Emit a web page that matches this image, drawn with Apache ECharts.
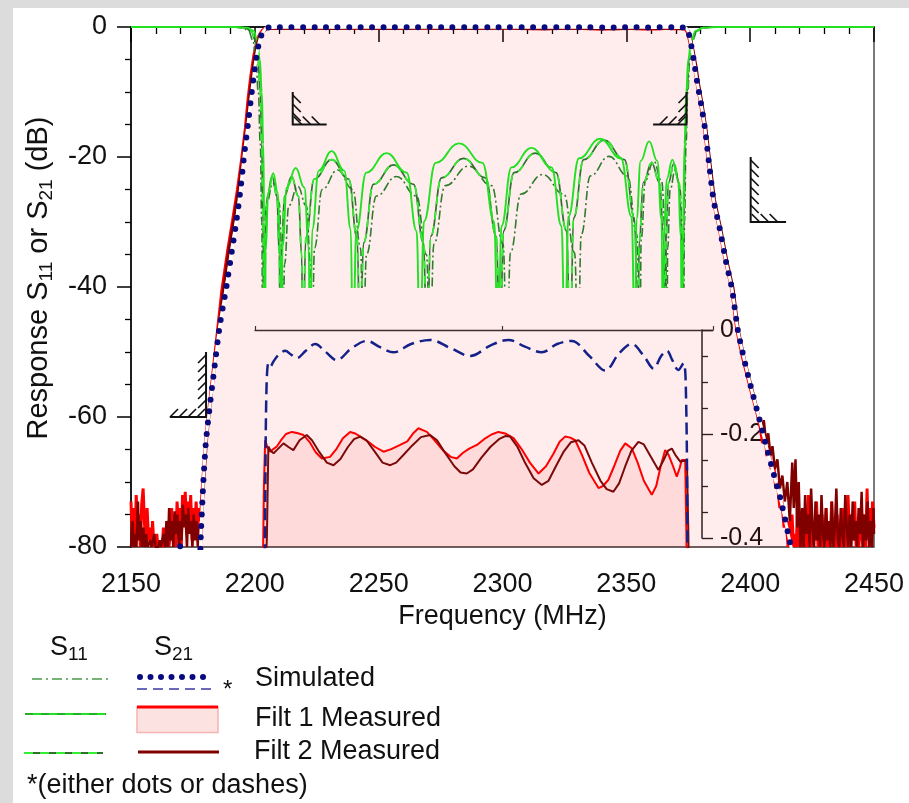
<!DOCTYPE html>
<html><head><meta charset="utf-8">
<script src="https://cdn.jsdelivr.net/npm/echarts@6/dist/echarts.min.js"></script>
<style>html,body{margin:0;padding:0;background:#fff}#c{width:909px;height:803px}</style>
</head><body><div id="c"></div>
<script>
const FONT = '"Liberation Sans", Arial, sans-serif';

// ---------- axis definitions ----------
const xRange = [2150, 2450];
const xInterval = 50;
const yRange = [-80, 0];
const yInterval = 20;
const insetYRange = [-0.4, 0];
const insetYInterval = 0.2;

// ---------- S21 Filt 1 measured (MHz, dB) ----------
const s21Filt1 = [
[2150.0,-73],[2150.5,-79],[2151.0,-74],[2151.6,-80],[2152.1,-72],[2152.7,-77],[2153.2,-75],[2153.8,-80],[2154.3,-73.5],[2154.9,-71],[2155.4,-76],[2156.0,-80],[2156.5,-74],[2157.1,-79],[2157.6,-77],[2158.2,-80],[2158.7,-76],[2159.3,-80],[2159.8,-80],[2160.4,-78],[2160.9,-80],[2161.5,-80],[2162.0,-79],[2162.6,-80],[2163.1,-77],[2163.7,-80],[2164.2,-80],[2164.8,-76],[2165.3,-80],[2165.9,-78],[2166.4,-74],[2167.0,-79],[2167.5,-75],[2168.1,-80],[2168.6,-73],[2169.2,-77],[2169.7,-74],[2170.3,-80],[2170.8,-72],[2171.4,-76],[2171.9,-71.5],[2172.5,-78],[2173.0,-73],[2173.6,-76],[2174.1,-72],[2174.7,-79],[2175.2,-74],[2175.8,-77],[2176.3,-73],[2176.9,-78],[2177.4,-74],[2178.0,-76],
[2178.6,-72],[2179.5,-67],[2180.3,-63],[2181.1,-60],[2183.0,-53.5],[2185.0,-46.5],[2186.7,-40.5],[2189,-34.5],[2191,-29.8],[2193,-25],[2194.8,-20],[2196.2,-15.5],[2197.3,-11],[2198.4,-7.5],[2199.5,-4.6],[2200.6,-2.6],[2201.6,-1.4],[2202.5,-0.8],[2203.2,-0.45],[2203.6,-0.3],
[2204.1,-0.212],[2205.0,-0.225],[2206.1,-0.234],[2207.4,-0.229],[2208.8,-0.224],[2210.5,-0.212],[2212.5,-0.2],[2214.9,-0.196],[2217.0,-0.198],[2219.6,-0.202],[2222.0,-0.215],[2224.5,-0.235],[2227.0,-0.247],[2230.3,-0.244],[2233.0,-0.228],[2235.5,-0.208],[2238.4,-0.196],[2240.5,-0.199],[2242.5,-0.205],[2245.5,-0.214],[2248.5,-0.225],[2251.9,-0.234],[2255.0,-0.229],[2258.6,-0.221],[2261.5,-0.214],[2264.0,-0.198],[2266.0,-0.189],[2267.5,-0.192],[2269.4,-0.196],[2272.5,-0.212],[2276.0,-0.232],[2279.0,-0.244],[2281.5,-0.247],[2284.0,-0.236],[2286.5,-0.228],[2289.6,-0.221],[2292.5,-0.21],[2295.5,-0.201],[2298.3,-0.196],[2301.0,-0.199],[2304.4,-0.208],[2307.5,-0.228],[2311.0,-0.255],[2314.5,-0.276],[2317.5,-0.262],[2320.5,-0.238],[2323.0,-0.215],[2325.2,-0.205],[2327.3,-0.207],[2329.3,-0.212],[2332.0,-0.24],[2335.0,-0.275],[2338.7,-0.304],[2340.5,-0.3],[2342.7,-0.288],[2345.0,-0.262],[2347.5,-0.232],[2349.5,-0.218],[2352.2,-0.228],[2354.5,-0.255],[2357.0,-0.29],[2360.2,-0.317],[2362.0,-0.3],[2363.8,-0.262],[2365.6,-0.231],[2367.0,-0.24],[2368.8,-0.262],[2370.3,-0.282],[2371.5,-0.265],[2372.3,-0.25],[2373.7,-0.25],[2374.2,-0.4],
[2374.6,-0.8],[2375.3,-1.8],[2376.3,-3.5],[2377.5,-6],[2378.6,-8.8],[2379.7,-11.2],[2381.5,-15.5],[2383.2,-21],[2385,-26.6],[2387.5,-31],[2390,-36],[2392.5,-40.2],[2394.6,-46.6],[2397,-51],[2400,-55.5],[2402.5,-59],[2404,-61.5],[2405,-64],[2406,-63],[2406.8,-66],[2407.5,-64.5],[2408.5,-68],[2409.5,-67],[2410.3,-71],[2411,-70],[2412,-74],[2412.8,-73],[2413.7,-77],[2414.5,-75.5],
[2415.3,-80],[2415.8,-76],[2416.4,-80],[2416.9,-75],[2417.5,-80],[2418.0,-78],[2418.6,-80],[2419.1,-74],[2419.7,-80],[2420.2,-77],[2420.8,-80],[2421.3,-79],[2421.9,-80],[2422.4,-75],[2423.0,-80],[2423.5,-72],[2424.1,-78],[2424.6,-74],[2425.2,-80],[2425.7,-76],[2426.3,-79],[2426.8,-73],[2427.4,-80],[2427.9,-77],[2428.5,-80],[2429.0,-75],[2429.6,-80],[2430.1,-78],[2430.7,-74],[2431.2,-80],[2431.8,-76],[2432.3,-80],[2432.9,-73],[2433.4,-79],[2434.0,-77],[2434.5,-80],[2435.1,-75],[2435.6,-80],[2436.2,-78],[2436.7,-80],[2437.3,-74],[2437.8,-79],[2438.4,-76],[2438.9,-80],[2439.5,-72],[2440.0,-77],[2440.6,-80],[2441.1,-75],[2441.7,-79],[2442.2,-73],[2442.8,-80],[2443.3,-76],[2443.9,-80],[2444.4,-74],[2445.0,-78],[2445.5,-80],[2446.1,-75],[2446.6,-80],[2447.2,-71],[2447.7,-78],[2448.3,-74],[2448.8,-80],[2449.4,-73],[2450.0,-77]
];

// ---------- S21 Filt 2 measured ----------
const s21Filt2 = [
[2150.0,-80],[2150.6,-76],[2151.1,-80],[2151.7,-78],[2152.2,-80],[2152.8,-73],[2153.3,-79],[2153.9,-76],[2154.4,-80],[2155.0,-77],[2155.5,-80],[2156.1,-78],[2156.6,-80],[2157.2,-80],[2157.7,-79],[2158.3,-80],[2158.8,-80],[2159.4,-78],[2159.9,-80],[2160.5,-80],[2161.0,-80],[2161.6,-79],[2162.1,-80],[2162.7,-80],[2163.2,-78],[2163.8,-80],[2164.3,-76],[2164.9,-80],[2165.4,-74],[2166.0,-79],[2166.5,-76],[2167.1,-80],[2167.6,-74.5],[2168.2,-78],[2168.7,-75],[2169.3,-80],[2169.8,-76],[2170.4,-79],[2170.9,-73.5],[2171.5,-77],[2172.0,-75],[2172.6,-80],[2173.1,-74],[2173.7,-78],[2174.2,-76],[2174.8,-80],[2175.3,-75],[2175.9,-79],[2176.4,-76],[2177.0,-80],[2177.5,-77],[2178.1,-80],
[2178.8,-74],[2179.7,-68.5],[2180.6,-63.5],[2181.5,-60],[2183.4,-53.5],[2185.4,-46.5],[2187.2,-40.5],[2189.4,-34.5],[2191.4,-29.8],[2193.4,-25],[2195.2,-20],[2196.6,-15.5],[2197.7,-11],[2198.8,-7.5],[2199.9,-4.6],[2201.0,-2.6],[2202.0,-1.4],[2203.0,-0.8],[2203.8,-0.55],[2204.4,-0.45],[2204.8,-0.4],
[2205.4,-0.224],[2206.3,-0.232],[2207.5,-0.237],[2209.0,-0.23],[2211.5,-0.218],[2213.5,-0.225],[2215.5,-0.231],[2218.0,-0.212],[2220.9,-0.202],[2223.0,-0.212],[2226.0,-0.235],[2229.0,-0.255],[2231.7,-0.26],[2234.5,-0.248],[2237.5,-0.225],[2240.0,-0.21],[2242.5,-0.205],[2245.0,-0.212],[2248.5,-0.235],[2251.5,-0.255],[2254.6,-0.26],[2257.0,-0.255],[2260.0,-0.24],[2263.5,-0.222],[2267.0,-0.206],[2270.7,-0.202],[2273.5,-0.212],[2277.0,-0.238],[2280.5,-0.262],[2283.0,-0.274],[2285.5,-0.276],[2288.0,-0.268],[2291.5,-0.245],[2295.0,-0.225],[2298.5,-0.21],[2301.0,-0.204],[2303.0,-0.205],[2306.0,-0.225],[2309.0,-0.255],[2312.5,-0.285],[2315.8,-0.298],[2318.5,-0.29],[2321.5,-0.262],[2324.5,-0.235],[2327.5,-0.216],[2330.6,-0.212],[2333.0,-0.222],[2336.0,-0.255],[2339.5,-0.29],[2342.0,-0.306],[2344.7,-0.311],[2347.0,-0.295],[2349.5,-0.262],[2352.0,-0.232],[2354.8,-0.215],[2357.0,-0.22],[2360.0,-0.245],[2362.9,-0.269],[2365.0,-0.25],[2366.8,-0.232],[2368.3,-0.228],[2369.7,-0.24],[2371.7,-0.253],[2373.0,-0.252],[2374.4,-0.25],[2375.0,-0.4],
[2375.4,-0.8],[2376.0,-1.8],[2377.0,-3.5],[2378.2,-6],[2379.3,-8.8],[2380.4,-11.2],[2382.2,-15.5],[2383.9,-21],[2385.7,-26.6],[2388.2,-31],[2390.7,-36],[2393.2,-40.2],[2395.3,-46.6],[2397.7,-51],[2400.7,-55.5],[2403,-59],[2404.5,-62],[2405.5,-60.5],[2406.5,-64],[2407.3,-62.5],[2408.2,-66],[2409,-64.5],[2410,-68],[2411,-66.5],[2412,-71],[2413,-69],[2414,-73],[2415,-70],[2416,-76],[2417,-67],[2417.6,-74],[2418.3,-66.5],[2419,-77],[2419.6,-70],[2420.3,-80],
[2421,-74],[2421.6,-80],[2422.2,-72],[2422.8,-78],[2423.4,-75],[2424.0,-80],[2424.6,-71],[2425.2,-77],[2425.8,-80],[2426.4,-73],[2427.0,-79],[2427.6,-75],[2428.2,-80],[2428.8,-72],[2429.4,-78],[2430.0,-80],[2430.6,-74],[2431.2,-79],[2431.8,-76],[2432.4,-80],[2433.0,-73],[2433.6,-80],[2434.2,-77],[2434.8,-71],[2435.4,-79],[2436.0,-80],[2436.6,-74],[2437.2,-78],[2437.8,-80],[2438.4,-72],[2439.0,-77],[2439.6,-80],[2440.2,-75],[2440.8,-80],[2441.4,-73],[2442.0,-79],[2442.6,-76],[2443.2,-80],[2443.8,-74],[2444.4,-78],[2445.0,-71.5],[2445.6,-80],[2446.2,-75],[2446.8,-79],[2447.4,-73],[2448.0,-80],[2448.6,-76],[2449.2,-80],[2449.8,-74],[2450,-78]
];

// ---------- S21 simulated ----------
const s21Sim = [
[2150,-105],[2160,-96],[2166,-88],[2169.7,-79.8],[2173,-86],[2177.6,-82],[2178.2,-78],[2179.2,-70],[2180.2,-64],[2181.3,-60],[2183.5,-53],[2185.8,-46],[2188.5,-40],[2190.5,-35],[2192.5,-30],[2194.2,-25],[2195.6,-20],[2197.2,-15],[2198.6,-10.5],[2199.9,-6.5],[2201.1,-3.5],[2202.2,-1.7],[2203.2,-0.8],[2203.8,-0.5],[2204.1,-0.35],[2204.6,-0.12],
[2205.4,-0.064],[2206.2,-0.07],[2207.4,-0.061],[2209.5,-0.048],[2212.2,-0.04],[2214.5,-0.047],[2216.9,-0.054],[2220.5,-0.04],[2224.3,-0.027],[2228.5,-0.042],[2233.0,-0.058],[2239.0,-0.035],[2245.2,-0.021],[2250.5,-0.033],[2255.9,-0.043],[2263.0,-0.027],[2270.7,-0.019],[2279.0,-0.035],[2286.9,-0.05],[2295.0,-0.03],[2302.3,-0.019],[2309.0,-0.032],[2315.8,-0.043],[2322.0,-0.027],[2327.9,-0.021],[2335.0,-0.05],[2341.4,-0.078],[2347.0,-0.045],[2352.1,-0.027],[2357.0,-0.05],[2360.9,-0.074],[2364.0,-0.05],[2366.3,-0.04],[2368.5,-0.058],[2370.9,-0.077],[2373.0,-0.064],[2374.0,-0.12],
[2374.6,-0.4],[2375.2,-1.0],[2376.2,-2.8],[2377.4,-5.5],[2378.6,-8.5],[2379.9,-11.2],[2381.7,-15.5],[2383.4,-21],[2385.2,-26.6],[2387.7,-31],[2390.2,-36],[2392.7,-40.4],[2395.0,-46.6],[2397.5,-51],[2400.5,-55.7],[2403.5,-60],[2406.5,-64.5],[2409.3,-68.5],[2412.5,-73],[2416.5,-80],[2420,-86],[2430,-96],[2450,-108]
];

// ---------- S11 simulated ----------
const s11Sim = [
[2150,0],[2190,0],[2195,-0.1],[2197.5,-0.6],[2199.2,-2],[2200.4,-5],[2201.4,-10],[2202.2,-18],[2202.8,-30],[2203.2,-50],
[2203.6,-36],[2204.8,-27],[2207.3,-24],[2209.8,-27],[2211.0,-36],[2211.4,-50],
[2212.0,-36.5],[2213.7,-27.5],[2217.3,-24.5],[2220.8,-27.5],[2222.5,-36.5],[2223.1,-50],
[2224.1,-34],[2227.2,-25],[2233.4,-22],[2239.6,-25],[2242.7,-34],[2243.7,-50],
[2245.1,-35],[2249.1,-26],[2257.2,-23],[2265.3,-26],[2269.3,-35],[2270.7,-50],
[2272.3,-33.4],[2276.9,-24.4],[2286.3,-21.4],[2295.6,-24.4],[2300.2,-33.4],[2301.8,-50],
[2303.2,-34.7],[2307.5,-25.7],[2316.2,-22.7],[2324.8,-25.7],[2329.1,-34.7],[2330.5,-50],
[2331.8,-31.9],[2335.5,-22.9],[2343.0,-19.9],[2350.5,-22.9],[2354.2,-31.9],[2355.5,-50],
[2356.0,-32.6],[2357.7,-23.6],[2361.0,-20.6],[2364.2,-23.6],[2365.9,-32.6],[2366.4,-50],
[2366.7,-34],[2367.7,-25],[2369.7,-22],[2371.7,-25],[2372.7,-34],[2373.0,-50],
[2373.5,-30],[2374.1,-18],[2374.8,-10],[2375.6,-5],[2376.8,-2],[2378.5,-0.6],[2381,-0.1],[2386,0],[2450,0]
];

// ---------- S11 Filt 1 measured ----------
const s11Filt1 = [
[2150,0],[2192,0],[2197,-0.1],[2199.5,-0.6],[2201,-2],[2202,-5],[2202.8,-10],[2203.4,-18],[2203.8,-30],[2204.1,-50],
[2204.4,-34.5],[2205.4,-25.5],[2207.4,-22.5],[2209.3,-25.5],[2210.3,-34.5],[2210.6,-50],
[2211.2,-33.7],[2212.9,-24.7],[2216.5,-21.7],[2220.0,-24.7],[2221.7,-33.7],[2222.3,-50],
[2223.2,-31.1],[2225.8,-22.1],[2231.0,-19.1],[2236.1,-22.1],[2238.7,-31.1],[2239.6,-50],
[2241.0,-31.4],[2245.0,-22.4],[2253.2,-19.4],[2261.3,-22.4],[2265.3,-31.4],[2266.7,-50],
[2268.3,-29.9],[2273.0,-20.9],[2282.5,-17.9],[2291.9,-20.9],[2296.6,-29.9],[2298.2,-50],
[2299.6,-30.6],[2303.6,-21.6],[2311.7,-18.6],[2319.8,-21.6],[2323.8,-30.6],[2325.2,-50],
[2326.6,-29.2],[2330.9,-20.2],[2339.4,-17.2],[2347.8,-20.2],[2352.1,-29.2],[2353.5,-50],
[2354.1,-29.6],[2355.8,-20.6],[2359.2,-17.6],[2362.5,-20.6],[2364.2,-29.6],[2364.8,-50],
[2365.2,-32.4],[2366.3,-23.4],[2368.6,-20.4],[2370.9,-23.4],[2372.0,-32.4],[2372.4,-50],
[2372.9,-30],[2373.5,-18],[2374.2,-10],[2375.0,-5],[2376.2,-2],[2378.0,-0.6],[2381,-0.1],[2387,0],[2450,0]
];

// ---------- S11 Filt 2 measured ----------
const s11Filt2 = [
[2150,0],[2191,0],[2196,-0.1],[2198.5,-0.6],[2200.2,-2],[2201.3,-5],[2202.2,-10],[2202.8,-18],[2203.3,-30],[2203.7,-50],
[2204.0,-35],[2205.0,-26],[2207.0,-23],[2208.9,-26],[2209.9,-35],[2210.2,-50],
[2210.7,-35],[2212.0,-26],[2214.8,-23],[2217.6,-26],[2218.9,-35],[2219.4,-50],
[2220.6,-32.4],[2224.0,-23.4],[2231.0,-20.4],[2237.9,-23.4],[2241.3,-32.4],[2242.5,-50],
[2243.9,-33.2],[2247.9,-24.2],[2256.0,-21.2],[2264.1,-24.2],[2268.1,-33.2],[2269.5,-50],
[2271.0,-32.2],[2275.4,-23.2],[2284.3,-20.2],[2293.1,-23.2],[2297.5,-32.2],[2299.0,-50],
[2300.4,-31.4],[2304.7,-22.4],[2313.2,-19.4],[2321.6,-22.4],[2325.9,-31.4],[2327.3,-50],
[2328.7,-29.4],[2332.8,-20.4],[2341.0,-17.4],[2349.2,-20.4],[2353.3,-29.4],[2354.7,-50],
[2355.2,-32.9],[2356.9,-23.9],[2360.2,-20.9],[2363.4,-23.9],[2365.1,-32.9],[2365.6,-50],
[2366.0,-33],[2367.0,-24],[2369.2,-21],[2371.4,-24],[2372.4,-33],[2372.8,-50],
[2373.2,-30],[2373.8,-18],[2374.5,-10],[2375.3,-5],[2376.5,-2],[2378.3,-0.6],[2381,-0.1],[2386,0],[2450,0]
];

// ---------- spec mask corners (MHz, dB) ----------
const masks = [
  {x: 2180.3, y: -60, top: -50, end: 2165.7},
  {x: 2215.3, y: -15, top: -10, end: 2229.0},
  {x: 2374.3, y: -15, top: -10, end: 2360.8},
  {x: 2400.2, y: -30, top: -20, end: 2414.5}
];

// ---------- layout ----------
const G = {left: 131, top: 27, right: 874, bottom: 547};
const pxPerMHz = (G.right - G.left) / (xRange[1] - xRange[0]);
const inset = {left: 255, top: 330, right: 713, axisBottom: 538, dataBottom: 547};
const insetXMin = 2200;
const insetXMax = insetXMin + (inset.right - inset.left) / pxPerMHz;
const insetDataYMin = insetYRange[0] * (inset.dataBottom - inset.top) / (inset.axisBottom - inset.top);

const chart = echarts.init(document.getElementById('c'), null, {renderer: 'canvas'});

const base = {type: 'line', showSymbol: false, symbol: 'none', silent: true, animation: false};
const txt = {fontFamily: FONT, color: '#111'};

const option = {
  animation: false,
  backgroundColor: '#fff',
  grid: [
    {left: G.left, top: G.top, width: G.right - G.left, height: G.bottom - G.top, show: true, borderColor: '#333', borderWidth: 1.3},
    {left: G.left, top: G.top, width: G.right - G.left, height: (G.bottom - G.top) / 2},
    {left: inset.left, top: inset.top, width: inset.right - inset.left, height: inset.axisBottom - inset.top},
    {left: inset.left, top: inset.top, width: inset.right - inset.left, height: inset.dataBottom - inset.top}
  ],
  xAxis: [
    {gridIndex: 0, type: 'value', min: xRange[0], max: xRange[1], interval: xInterval,
     axisLine: {show: true, lineStyle: {color: '#000', width: 1.5}},
     axisTick: {show: true, length: 15, lineStyle: {color: '#000', width: 1.5}},
     minorTick: {show: true, splitNumber: 5, length: 7, lineStyle: {color: '#000', width: 1.3}},
     axisLabel: {fontSize: 27, margin: 24, ...txt, formatter: v => String(v)},
     splitLine: {show: false},
     name: 'Frequency (MHz)', nameLocation: 'middle', nameGap: 54,
     nameTextStyle: {fontSize: 27, ...txt}},
    {gridIndex: 1, type: 'value', min: xRange[0], max: xRange[1], show: false},
    {gridIndex: 2, type: 'value', min: insetXMin, max: insetXMax, interval: 100, position: 'top',
     axisLine: {show: true, lineStyle: {color: '#333', width: 1.3}},
     axisTick: {show: true, length: 4, lineStyle: {color: '#333', width: 1.2}},
     axisLabel: {show: false}, splitLine: {show: false}},
    {gridIndex: 3, type: 'value', min: insetXMin, max: insetXMax, show: false}
  ],
  yAxis: [
    {gridIndex: 0, type: 'value', min: yRange[0], max: yRange[1], interval: yInterval,
     axisLine: {show: true, lineStyle: {color: '#000', width: 1.5}},
     axisTick: {show: true, length: 14, lineStyle: {color: '#000', width: 1.5}},
     minorTick: {show: true, splitNumber: 4, length: 6, lineStyle: {color: '#000', width: 1.3}},
     axisLabel: {fontSize: 27, margin: 24, ...txt, formatter: v => String(v)},
     splitLine: {show: false}},
    {gridIndex: 1, type: 'value', min: -40, max: 0, show: false},
    {gridIndex: 2, type: 'value', min: insetYRange[0], max: insetYRange[1], interval: insetYInterval,
     position: 'right', offset: -(inset.right - 702),
     axisLine: {show: true, lineStyle: {color: '#222', width: 1.5}},
     axisTick: {show: true, length: 11, lineStyle: {color: '#222', width: 1.4}},
     minorTick: {show: true, splitNumber: 4, length: 6, lineStyle: {color: '#222', width: 1.3}},
     axisLabel: {fontSize: 25, margin: 18, ...txt, formatter: v => v === 0 ? '0' : v.toFixed(1)},
     splitLine: {show: false}},
    {gridIndex: 3, type: 'value', min: insetDataYMin, max: 0, show: false}
  ],
  series: [
    {...base, xAxisIndex: 0, yAxisIndex: 0, data: s21Filt1, z: 2,
     lineStyle: {color: '#ff0000', width: 3},
     areaStyle: {color: 'rgba(255,0,0,0.105)', origin: 'start'}},
    {...base, xAxisIndex: 1, yAxisIndex: 1, data: s11Sim, z: 3, smooth: 0.45, smoothMonotone: 'x',
     lineStyle: {color: '#2e7d2e', width: 1.6, type: [9, 3, 2, 3]}},
    {...base, xAxisIndex: 1, yAxisIndex: 1, data: s11Filt2, z: 3, smooth: 0.45, smoothMonotone: 'x',
     lineStyle: {color: '#2f6f2f', width: 1.7}},
    {...base, xAxisIndex: 1, yAxisIndex: 1, data: s11Filt2, z: 3, smooth: 0.45, smoothMonotone: 'x',
     lineStyle: {color: '#33ee33', width: 1.7, type: [8, 7]}},
    {...base, xAxisIndex: 1, yAxisIndex: 1, data: s11Filt1, z: 3, smooth: 0.45, smoothMonotone: 'x',
     lineStyle: {color: '#22e022', width: 1.9}},
    {...base, xAxisIndex: 0, yAxisIndex: 0, data: s21Filt2, z: 4,
     lineStyle: {color: '#800000', width: 2.5}},
    {...base, xAxisIndex: 0, yAxisIndex: 0, data: s21Sim, z: 5, smooth: 0.2,
     lineStyle: {color: '#ffffff', width: 3}},
    {...base, xAxisIndex: 0, yAxisIndex: 0, data: s21Sim, z: 6, smooth: 0.2,
     lineStyle: {color: '#0a0a80', width: 6, type: [0, 11.5], cap: 'round'}},
    {...base, xAxisIndex: 3, yAxisIndex: 3, data: s21Filt1, z: 7,
     lineStyle: {color: '#ff0000', width: 2},
     areaStyle: {color: 'rgba(255,0,0,0.105)', origin: 'start'}},
    {...base, xAxisIndex: 3, yAxisIndex: 3, data: s21Filt2, z: 7,
     lineStyle: {color: '#7a0a0a', width: 2}},
    {...base, xAxisIndex: 3, yAxisIndex: 3, data: s21Sim, z: 8, smooth: 0.35,
     lineStyle: {color: '#14218a', width: 2.5, type: [12, 6]}}
  ]
};
chart.setOption(option);

// ---------- graphics: frame, masks, titles, legend ----------
function ln(x1, y1, x2, y2, stroke, w, dash, cap) {
  return {type: 'line', shape: {x1, y1, x2, y2}, silent: true, z: 50,
          style: {stroke, lineWidth: w, lineDash: dash || null, lineCap: cap || 'butt'}};
}
function tx(x, y, text, opt) {
  return {type: 'text', x, y, silent: true, z: 50, ...opt,
          style: Object.assign({text, fontFamily: FONT, fontSize: 27, fill: '#111',
                                align: 'left', verticalAlign: 'middle'}, (opt && opt.style) || {})};
}
const gfx = [];
gfx.push({type: 'rect', shape: {x: 0, y: 0, width: 909, height: 8}, style: {fill: '#dcdcdc'}, z: 0, silent: true});
gfx.push({type: 'rect', shape: {x: 0, y: 0, width: 13, height: 803}, style: {fill: '#dcdcdc'}, z: 0, silent: true});

masks.forEach(m => {
  const c = chart.convertToPixel({xAxisIndex: 0, yAxisIndex: 0}, [m.x, m.y]);
  const t = chart.convertToPixel({xAxisIndex: 0, yAxisIndex: 0}, [m.x, m.top]);
  const e = chart.convertToPixel({xAxisIndex: 0, yAxisIndex: 0}, [m.end, m.y]);
  const dir = m.end > m.x ? 1 : -1;
  gfx.push({type: 'polyline', shape: {points: [t, c, e]}, silent: true, z: 50,
            style: {stroke: '#111', lineWidth: 2, fill: null}});
  for (let yy = t[1] + 3; yy <= c[1] - 9; yy += 9) gfx.push(ln(c[0], yy, c[0] + dir * 8, yy + 8, '#111', 1.7));
  for (let k = 1; ; k++) {
    const xx = c[0] + dir * (9 * k);
    if (dir * (xx - e[0]) > 0.5) break;
    gfx.push(ln(xx, c[1], xx - dir * 8, c[1] - 8, '#111', 1.7));
  }
});

gfx.push(tx(39, 278, 'Response S{s|11} or S{s|21} (dB)', {rotation: Math.PI / 2,
  style: {align: 'center', fontSize: 29, lineHeight: 34, rich: {s: {fontSize: 19, lineHeight: 10, verticalAlign: 'bottom', fontFamily: FONT, fill: '#111'}}}}));

const rich = {s: {fontSize: 19, lineHeight: 10, verticalAlign: 'bottom', fontFamily: FONT, fill: '#111'}};
gfx.push(tx(50, 648, 'S{s|11}', {style: {lineHeight: 32, rich}}));
gfx.push(tx(154, 648, 'S{s|21}', {style: {lineHeight: 32, rich}}));
gfx.push(ln(32, 679, 110, 679, '#4a9a4a', 1.6, [10, 4, 2, 4]));
gfx.push(ln(140, 677, 212, 677, '#0a0a80', 6, [0, 10.5], 'round'));
gfx.push(ln(137, 689, 217, 689, '#3a3aa8', 1.6, [10, 6]));
gfx.push(tx(223, 690, '*', {style: {fontSize: 24}}));
gfx.push(tx(255, 679, 'Simulated'));
gfx.push(ln(25, 714, 106, 714, '#22e022', 2));
gfx.push(ln(25, 714, 106, 714, '#2f6f2f', 0.8, [8, 8]));
gfx.push({type: 'rect', shape: {x: 137, y: 707, width: 81, height: 25.5}, silent: true, z: 49,
          style: {fill: '#fde2e2', stroke: '#f8b4b4', lineWidth: 1.5}});
gfx.push(ln(137, 707, 218, 707, '#ff0000', 3));
gfx.push(tx(255, 719, 'Filt 1 Measured'));
gfx.push(ln(24, 753, 103, 753, '#2f6f2f', 1.8));
gfx.push(ln(24, 753, 103, 753, '#33ee33', 1.8, [9, 7]));
gfx.push(ln(138, 752, 219, 752, '#800000', 3));
gfx.push(tx(254, 752, 'Filt 2 Measured'));
gfx.push(tx(27, 786, '*(either dots or dashes)'));

chart.setOption({graphic: gfx});
</script></body></html>
